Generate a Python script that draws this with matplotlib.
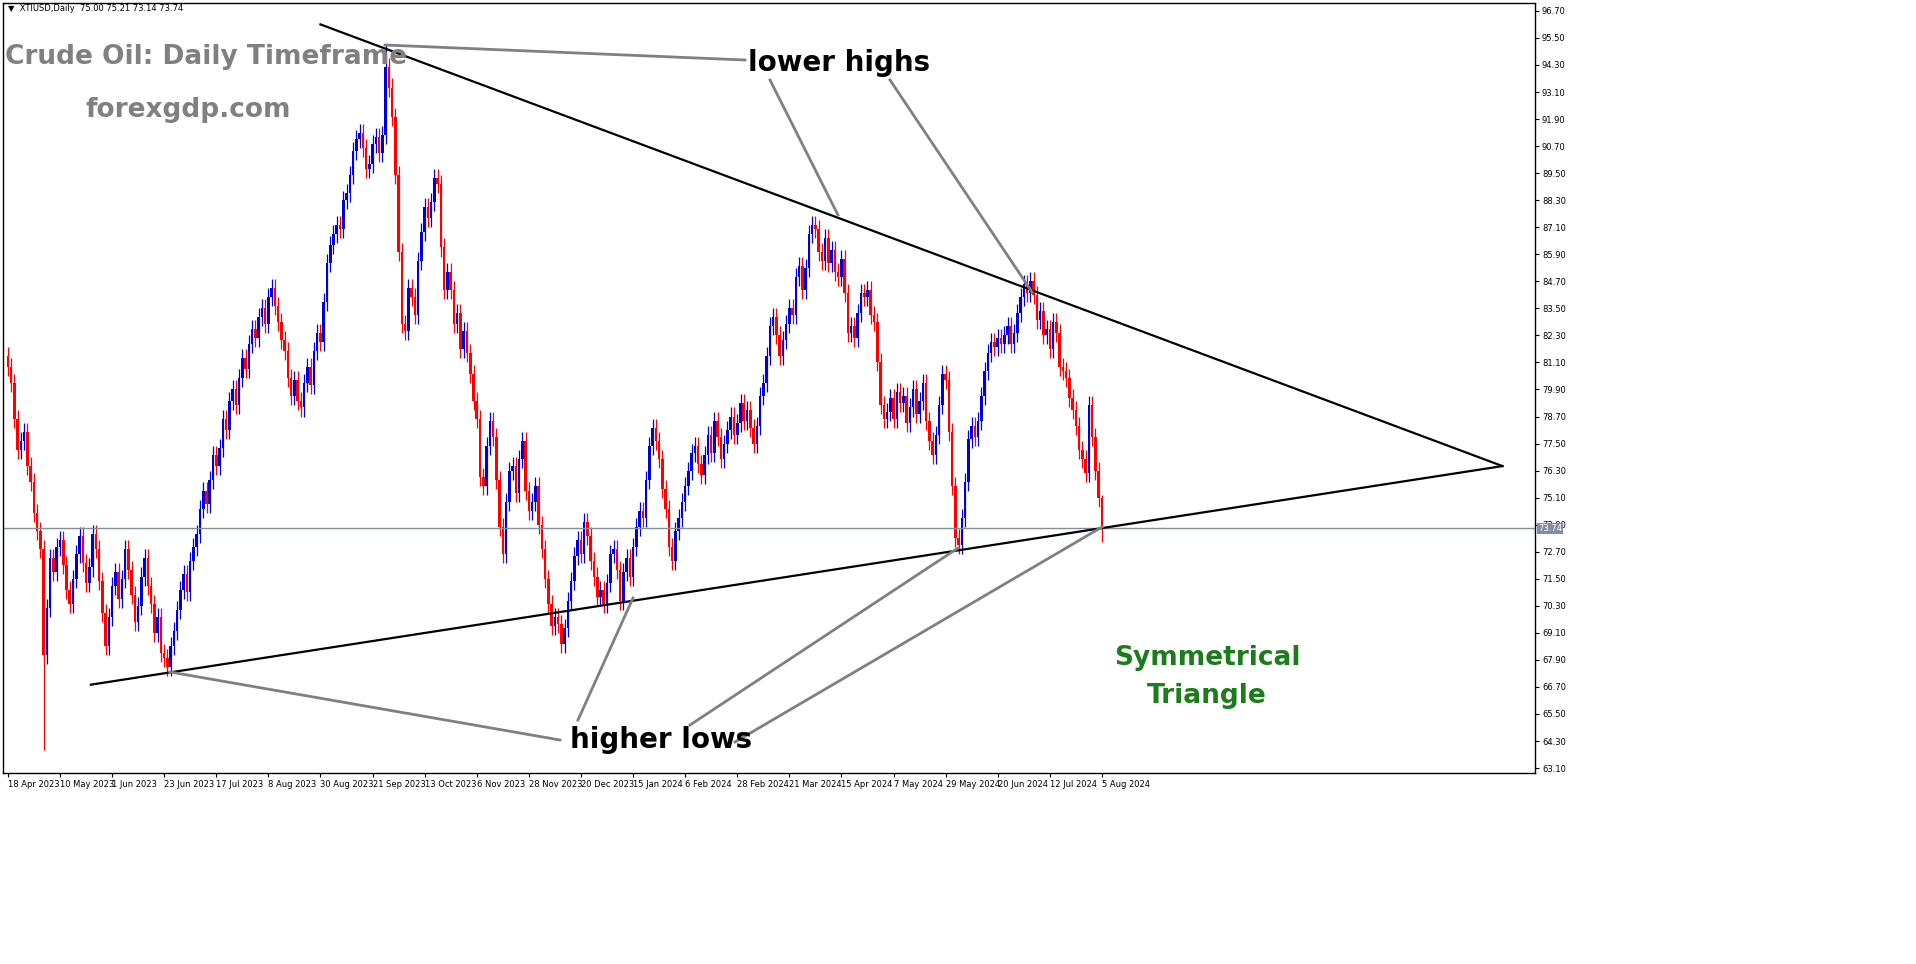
import matplotlib
matplotlib.use("Agg")
import matplotlib.pyplot as plt
import numpy as np

closes = [
80.9,80.2,78.6,77.2,77.6,78.0,76.5,75.8,74.4,73.6,72.8,
68.1,70.2,72.4,71.8,72.9,73.2,72.1,71.0,70.4,71.5,
72.6,73.4,72.2,71.3,72.0,73.5,72.8,71.4,70.0,
68.5,69.8,71.2,71.8,70.6,71.5,72.8,71.9,70.8,69.6,
70.3,71.6,72.4,71.2,70.4,69.1,69.8,68.2,68.0,67.6,
68.5,69.2,70.1,71.0,71.7,70.9,72.3,72.9,73.5,74.6,
75.4,74.8,75.9,77.0,76.5,77.3,78.6,78.1,79.4,79.9,
79.2,80.4,81.3,80.8,81.9,82.6,82.2,83.1,83.5,82.8,
84.0,84.4,83.6,82.9,82.1,81.6,80.4,79.6,80.3,79.4,
79.1,80.2,80.9,80.1,81.6,82.4,82.0,83.8,85.5,86.3,
86.8,87.2,87.0,88.3,88.6,89.4,90.5,91.0,91.3,90.6,
89.7,89.9,90.8,91.1,90.4,91.2,94.2,93.3,92.0,89.4,
86.0,82.8,82.5,84.4,84.0,83.2,85.6,86.9,88.0,87.5,
88.2,89.3,89.0,86.2,84.3,85.1,84.3,82.8,83.3,81.7,
82.5,81.5,80.6,79.4,78.6,76.0,75.6,77.4,78.5,77.8,
75.9,73.8,72.6,74.9,76.3,76.5,75.3,76.8,77.6,75.4,
74.5,74.9,75.6,73.9,72.8,71.5,70.4,69.4,69.8,69.5,
68.6,69.3,70.5,71.4,72.5,73.2,72.6,74.0,73.4,72.3,
71.6,70.7,71.0,70.4,71.3,72.6,72.8,71.9,70.5,71.8,
72.4,71.6,72.9,73.8,74.5,74.2,75.9,77.4,78.2,77.6,
76.8,75.5,74.6,72.9,72.3,73.6,74.2,74.9,75.6,76.3,
77.1,77.4,76.6,76.1,77.0,77.9,77.1,78.5,77.8,76.8,
77.5,78.1,78.7,77.9,78.4,79.3,78.5,79.0,78.2,77.5,
78.3,79.6,80.2,81.4,82.7,83.1,82.3,81.4,82.1,82.8,
83.5,83.2,84.9,85.4,84.3,85.3,86.8,87.2,87.0,86.0,
85.6,86.6,85.5,86.1,85.1,84.9,85.7,84.2,82.4,82.7,
82.2,83.3,84.2,84.0,84.3,83.2,82.9,81.1,79.2,78.6,
78.9,79.5,78.6,79.8,79.3,79.6,78.4,79.1,79.9,78.8,
79.4,80.2,78.5,77.6,77.0,77.9,79.2,80.6,80.3,78.0,
75.6,73.3,73.0,74.2,75.8,77.7,78.3,77.8,78.5,79.6,
80.7,81.5,82.0,81.8,82.2,81.9,82.3,82.7,81.9,82.4,
83.3,84.0,84.6,84.2,84.7,84.1,83.0,83.4,82.3,82.6,
81.7,82.9,82.4,80.9,80.7,80.4,79.5,79.0,78.3,77.2,
76.8,76.2,79.2,77.8,76.3,75.1,73.74]
first_open = 81.4
wick = 0.4
low_spikes = {11: 63.9, 336: 73.14}
high_spikes = {116: 95.2, 336: 75.21}

tick_labels = ["18 Apr 2023","10 May 2023","1 Jun 2023","23 Jun 2023","17 Jul 2023","8 Aug 2023",
"30 Aug 2023","21 Sep 2023","13 Oct 2023","6 Nov 2023","28 Nov 2023","20 Dec 2023","15 Jan 2024",
"6 Feb 2024","28 Feb 2024","21 Mar 2024","15 Apr 2024","7 May 2024","29 May 2024","20 Jun 2024",
"12 Jul 2024","5 Aug 2024"]
tick_step = 16
price_ticks = [round(96.70 - 1.20*i, 2) for i in range(29)]
last_price = 73.74

# trendline anchors (bar index, price)
upper_line = [(96.0, 96.1), (459.0, 76.5)]
lower_line = [(25.5, 66.8), (459.0, 76.5)]

W, H = 1916, 964
fig = plt.figure(figsize=(W/100, H/100), dpi=100)
fig.patch.set_facecolor("white")
ax = fig.add_axes([3/W, 1-773/H, 1532/W, 770/H])
ax.set_xlim(-1.5, 469)
ax.set_ylim(62.88, 97.05)

opens = [first_open] + closes[:-1]
for i, (o, c) in enumerate(zip(opens, closes)):
    col = "#0000d8" if c >= o else "#ff0000"
    hi = high_spikes.get(i, max(o, c) + wick)
    lo = low_spikes.get(i, min(o, c) - wick)
    ax.vlines(i, lo, hi, color=col, lw=0.9)
    ax.bar(i, max(abs(c-o), 0.05), bottom=min(o, c), width=0.78, color=col, lw=0)

ax.axhline(last_price, color="#8090a0", lw=1)
for ln in (upper_line, lower_line):
    ax.plot([p[0] for p in ln], [p[1] for p in ln], color="black", lw=1.6)

ax.yaxis.tick_right()
ax.set_yticks(price_ticks)
ax.set_yticklabels([f"{p:.2f}" for p in price_ticks], fontsize=6)
ax.set_xticks([i*tick_step for i in range(len(tick_labels))])
ax.set_xticklabels(tick_labels, fontsize=6, ha="left")
ax.tick_params(length=3, pad=2)
for s in ax.spines.values():
    s.set_color("black"); s.set_linewidth(1)
ax.text(1.002, (last_price-62.88)/(97.05-62.88), f"{last_price:.2f}", transform=ax.transAxes,
        fontsize=6, va="center", ha="left", color="white",
        bbox=dict(boxstyle="square,pad=0.15", fc="#8090a0", ec="none"))

def fx(x): return x/W
def fy(y): return 1-y/H
gray = "#808080"
def gline(p1, p2, lw=2):
    fig.add_artist(plt.Line2D([fx(p1[0]), fx(p2[0])], [fy(p1[1]), fy(p2[1])], color=gray, lw=lw))
gline((385, 45), (745, 60))
gline((770, 80), (838, 215))
gline((890, 80), (1032, 292))
gline((560, 740), (170, 672))
gline((578, 720), (633, 598))
gline((690, 725), (958, 548))
gline((735, 742), (1102, 527))

fig.text(fx(8), fy(4), "▼  XTIUSD,Daily  75.00 75.21 73.14 73.74", fontsize=6, va="top")
fig.text(fx(5), fy(57), "Crude Oil: Daily Timeframe", fontsize=19, fontweight="bold", color=gray, va="center")
fig.text(fx(85), fy(110), "forexgdp.com", fontsize=19, fontweight="bold", color=gray, va="center")
fig.text(fx(748), fy(63), "lower highs", fontsize=20, fontweight="bold", color="black", va="center")
fig.text(fx(570), fy(740), "higher lows", fontsize=20, fontweight="bold", color="black", va="center")
fig.text(fx(1207), fy(677), "Symmetrical\nTriangle", fontsize=19, fontweight="bold", color="#1a7d1a",
         va="center", ha="center", linespacing=1.6)

fig.savefig("out.png", dpi=100)
